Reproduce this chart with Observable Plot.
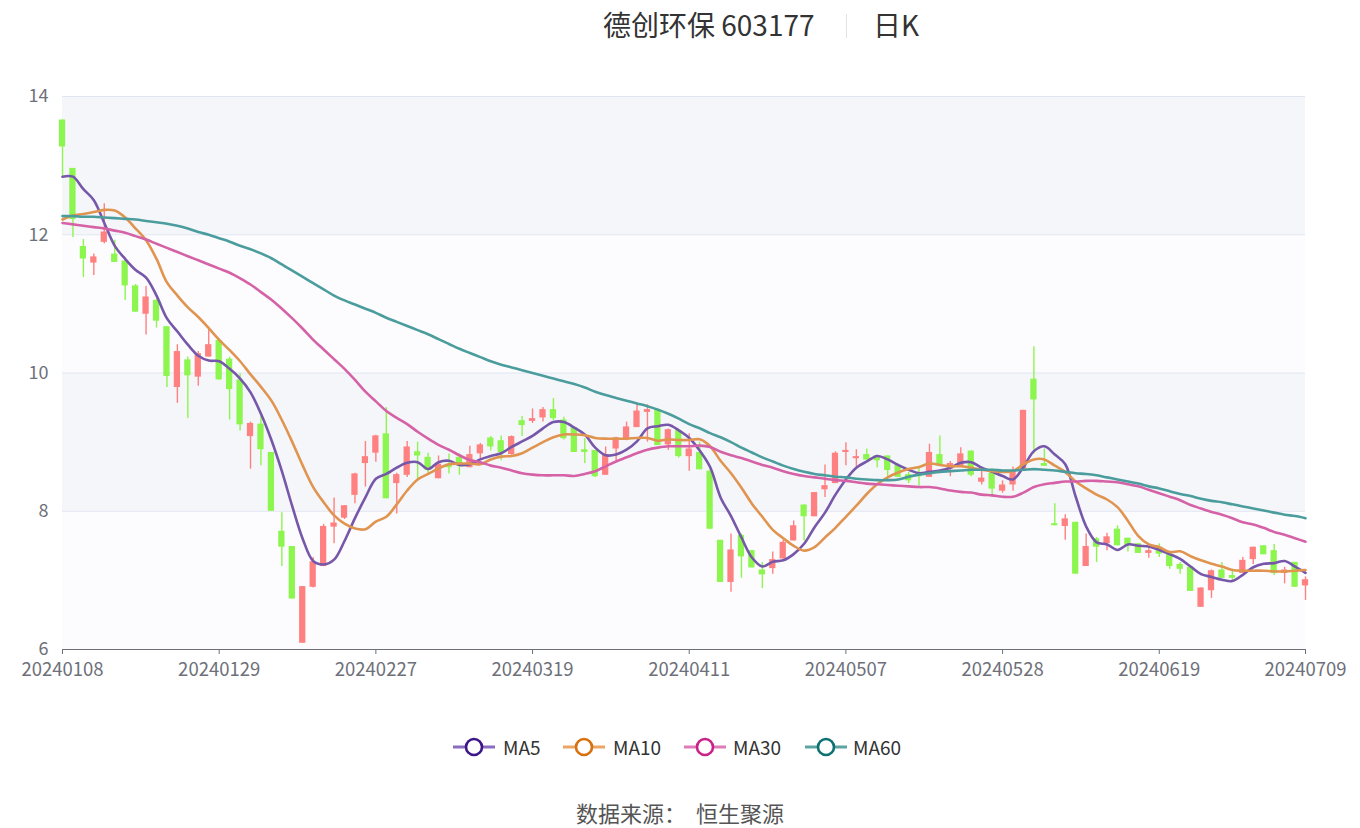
<!DOCTYPE html>
<html>
<head>
<meta charset="utf-8">
<script src="https://cdn.jsdelivr.net/npm/d3@7"></script>
<script src="https://cdn.jsdelivr.net/npm/@observablehq/plot@0.6"></script>
<style>
  body { margin: 0; background: #fff; font-family: "Noto Sans CJK SC", "Noto Sans", sans-serif; }
  #wrap { position: relative; width: 1360px; height: 828px; overflow: hidden; }
  #chart { position: absolute; left: 0; top: 0; }
  .title { position: absolute; top: 7px; font-size: 28px; line-height: 34px; color: #333; white-space: nowrap; }
  .sep { position: absolute; left: 846px; top: 14px; width: 1px; height: 24px; background: #e3e3e3; }
  .leg { position: absolute; top: 737px; height: 20px; display: flex; align-items: center; }
  .legtxt { position: absolute; top: 733px; font-size: 19px; line-height: 28px; color: #333; white-space: nowrap; }
  .source { position: absolute; top: 796px; left: 0; width: 1360px; text-align: center; font-size: 22px; line-height: 32px; color: #555; white-space: pre; }
</style>
</head>
<body>
<div id="wrap">
  <div id="chart"></div>
  <div class="title" style="left:603px">德创环保 603177</div>
  <div class="sep"></div>
  <div class="title" style="left:873px">日K</div>
  <div id="legend"></div>
  <div class="source">数据来源：  恒生聚源</div>
</div>
<script>
// trading dates (category axis)
const dates = [
  "20240108","20240109","20240110","20240111","20240112","20240115","20240116","20240117","20240118","20240119",
  "20240122","20240123","20240124","20240125","20240126","20240129","20240130","20240131","20240201","20240202",
  "20240205","20240206","20240207","20240208","20240219","20240220","20240221","20240222","20240223","20240226",
  "20240227","20240228","20240229","20240301","20240304","20240305","20240306","20240307","20240308","20240311",
  "20240312","20240313","20240314","20240315","20240318","20240319","20240320","20240321","20240322","20240325",
  "20240326","20240327","20240328","20240329","20240401","20240402","20240403","20240408","20240409","20240410",
  "20240411","20240412","20240415","20240416","20240417","20240418","20240419","20240422","20240423","20240424",
  "20240425","20240426","20240429","20240430","20240506","20240507","20240508","20240509","20240510","20240513",
  "20240514","20240515","20240516","20240517","20240520","20240521","20240522","20240523","20240524","20240527",
  "20240528","20240529","20240530","20240531","20240603","20240604","20240605","20240606","20240607","20240611",
  "20240612","20240613","20240614","20240617","20240618","20240619","20240620","20240621","20240624","20240625",
  "20240626","20240627","20240628","20240701","20240702","20240703","20240704","20240705","20240708","20240709"
];

const openP = [
  13.66,12.96,11.83,11.59,11.89,11.72,11.62,11.26,10.85,11.05,
  10.67,9.79,10.19,9.94,10.23,10.47,10.20,9.90,9.08,9.26,
  8.85,7.71,7.49,6.09,6.90,7.20,7.77,7.90,8.23,8.69,
  8.84,9.12,8.40,8.52,8.86,8.78,8.47,8.68,8.78,8.63,
  8.83,9.06,9.02,8.82,9.31,9.30,9.35,9.47,9.32,9.21,
  8.89,8.88,8.52,8.90,9.03,9.21,9.43,9.47,8.96,9.17,
  8.79,8.85,8.58,7.58,6.97,7.65,7.43,7.15,7.17,7.31,
  7.57,8.09,7.92,8.31,8.40,8.85,8.76,8.82,8.80,8.80,
  8.66,8.53,8.52,8.49,8.82,8.61,8.64,8.87,8.42,8.55,
  8.29,8.38,8.58,9.91,8.67,7.82,7.78,7.84,7.20,7.60,
  7.53,7.74,7.61,7.53,7.39,7.48,7.38,7.23,7.19,6.61,
  6.85,7.15,7.05,7.10,7.30,7.50,7.43,7.10,7.26,6.92
];
const highP = [
  13.66,12.96,11.93,11.72,12.45,11.92,11.62,11.28,11.25,11.07,
  10.67,10.41,10.23,10.31,10.64,10.50,10.23,9.99,9.29,9.38,
  8.85,7.98,7.49,6.91,7.33,7.81,8.19,8.08,8.55,9.01,
  9.10,9.50,8.55,9.01,9.00,8.84,8.80,8.83,8.83,8.94,
  8.98,9.08,9.09,9.09,9.37,9.48,9.50,9.63,9.36,9.21,
  9.05,8.88,8.93,9.07,9.29,9.54,9.54,9.48,9.19,9.17,
  9.12,9.00,8.61,7.58,7.67,7.67,7.43,7.26,7.41,7.58,
  7.86,8.09,8.27,8.67,8.86,8.99,8.89,8.90,8.81,8.80,
  8.68,8.56,8.62,8.97,9.09,8.72,8.92,8.87,8.58,8.61,
  8.44,8.64,9.46,10.38,8.90,8.11,7.95,7.84,7.67,7.62,
  7.68,7.79,7.61,7.53,7.48,7.53,7.38,7.26,7.19,6.89,
  7.15,7.26,7.16,7.33,7.48,7.50,7.52,7.19,7.26,7.05
];
const lowP = [
  12.84,11.96,11.38,11.41,11.87,11.60,11.05,10.88,10.55,10.65,
  9.79,9.56,9.34,9.81,10.23,9.90,9.32,9.16,8.61,8.66,
  8.00,7.20,6.73,6.09,6.89,7.20,7.53,7.88,8.11,8.35,
  8.71,8.18,7.96,8.49,8.44,8.55,8.47,8.54,8.52,8.63,
  8.76,8.87,8.73,8.81,9.08,9.27,9.29,9.31,9.03,8.85,
  8.69,8.49,8.52,8.73,9.02,9.21,9.00,8.95,8.88,8.77,
  8.58,8.60,7.74,6.97,6.83,7.03,7.18,6.88,7.09,7.31,
  7.57,7.57,7.92,8.20,8.40,8.66,8.64,8.74,8.63,8.49,
  8.49,8.40,8.36,8.49,8.65,8.50,8.64,8.50,8.38,8.20,
  8.26,8.29,8.58,8.83,8.65,7.79,7.58,7.09,7.20,7.26,
  7.43,7.50,7.41,7.39,7.32,7.33,7.16,7.09,6.84,6.61,
  6.74,7.03,7.00,7.10,7.23,7.37,7.07,6.95,6.90,6.71
];
const closeP = [
  13.27,12.22,11.65,11.68,12.04,11.60,11.26,10.88,11.10,10.75,
  9.95,10.31,9.96,10.28,10.41,9.90,9.76,9.25,9.27,8.89,
  8.00,7.48,6.73,6.91,7.27,7.78,7.83,8.08,8.54,8.79,
  9.09,8.18,8.53,8.93,8.80,8.59,8.68,8.63,8.66,8.82,
  8.96,8.93,8.85,9.08,9.24,9.34,9.47,9.34,9.05,8.85,
  8.85,8.50,8.82,9.06,9.22,9.45,9.47,8.95,9.18,8.79,
  8.90,8.60,7.74,6.97,7.44,7.34,7.18,7.08,7.30,7.55,
  7.79,7.92,8.27,8.37,8.84,8.88,8.79,8.74,8.73,8.59,
  8.49,8.44,8.50,8.85,8.65,8.69,8.83,8.52,8.48,8.32,
  8.38,8.58,9.46,9.61,8.65,7.79,7.89,7.09,7.49,7.48,
  7.63,7.50,7.50,7.39,7.43,7.38,7.20,7.16,6.84,6.89,
  7.14,7.03,7.03,7.29,7.48,7.37,7.10,7.15,6.90,7.01
];

const ma5 = [
  12.84,12.84,12.66,12.50,12.17,11.84,11.65,11.49,11.38,11.12,
  10.79,10.60,10.41,10.25,10.18,10.17,10.06,9.92,9.72,9.41,
  9.03,8.58,8.07,7.60,7.28,7.23,7.30,7.57,7.90,8.20,
  8.47,8.54,8.63,8.70,8.71,8.61,8.71,8.73,8.67,8.68,
  8.75,8.80,8.84,8.93,9.01,9.09,9.20,9.29,9.29,9.21,
  9.11,8.92,8.81,8.82,8.89,9.01,9.20,9.23,9.25,9.17,
  9.06,8.88,8.64,8.20,7.93,7.62,7.33,7.20,7.27,7.29,
  7.38,7.53,7.77,7.98,8.24,8.46,8.63,8.72,8.80,8.75,
  8.67,8.60,8.55,8.57,8.59,8.63,8.70,8.71,8.63,8.57,
  8.51,8.46,8.64,8.87,8.94,8.82,8.68,8.21,7.78,7.55,
  7.52,7.44,7.52,7.50,7.49,7.44,7.38,7.31,7.20,7.09,
  7.05,7.01,6.99,7.08,7.19,7.24,7.25,7.28,7.20,7.11
];
const ma10 = [
  12.22,12.28,12.30,12.33,12.36,12.35,12.25,12.09,11.92,11.65,
  11.31,11.12,10.95,10.81,10.65,10.48,10.33,10.17,9.98,9.80,
  9.60,9.32,9.00,8.66,8.35,8.13,7.94,7.82,7.75,7.74,
  7.85,7.92,8.10,8.30,8.46,8.54,8.62,8.68,8.69,8.69,
  8.68,8.75,8.79,8.80,8.84,8.92,9.00,9.07,9.11,9.11,
  9.10,9.06,9.05,9.05,9.05,9.06,9.06,9.02,9.04,9.03,
  9.03,9.04,8.94,8.73,8.55,8.34,8.11,7.92,7.73,7.61,
  7.50,7.43,7.48,7.62,7.76,7.92,8.08,8.25,8.39,8.49,
  8.56,8.61,8.64,8.69,8.67,8.65,8.65,8.63,8.60,8.58,
  8.57,8.58,8.68,8.75,8.75,8.66,8.57,8.43,8.33,8.24,
  8.17,8.06,7.86,7.64,7.52,7.48,7.41,7.42,7.35,7.29,
  7.24,7.20,7.15,7.14,7.14,7.14,7.13,7.13,7.14,7.15
];
const ma30 = [
  12.17,12.15,12.13,12.11,12.09,12.06,12.03,11.98,11.93,11.87,
  11.81,11.75,11.69,11.63,11.57,11.51,11.45,11.37,11.28,11.17,
  11.06,10.93,10.79,10.64,10.48,10.34,10.20,10.06,9.90,9.73,
  9.59,9.45,9.35,9.26,9.15,9.05,8.96,8.89,8.81,8.74,
  8.71,8.66,8.63,8.59,8.55,8.53,8.52,8.52,8.52,8.51,
  8.54,8.58,8.65,8.72,8.78,8.84,8.89,8.92,8.94,8.94,
  8.94,8.95,8.93,8.86,8.81,8.77,8.72,8.67,8.63,8.58,
  8.54,8.51,8.49,8.47,8.45,8.44,8.42,8.40,8.39,8.38,
  8.37,8.36,8.35,8.35,8.33,8.30,8.28,8.27,8.24,8.23,
  8.21,8.21,8.27,8.35,8.39,8.41,8.43,8.43,8.44,8.44,
  8.43,8.42,8.39,8.36,8.31,8.26,8.21,8.16,8.09,8.04,
  7.99,7.95,7.90,7.84,7.81,7.76,7.70,7.66,7.61,7.56
];
const ma60 = [
  12.27,12.27,12.26,12.26,12.25,12.24,12.23,12.22,12.20,12.18,
  12.16,12.13,12.09,12.04,12.00,11.95,11.90,11.84,11.79,11.73,
  11.66,11.57,11.48,11.39,11.30,11.21,11.12,11.05,10.99,10.93,
  10.87,10.80,10.74,10.68,10.62,10.56,10.49,10.42,10.35,10.29,
  10.23,10.17,10.12,10.08,10.04,10.00,9.96,9.92,9.88,9.84,
  9.79,9.73,9.68,9.64,9.60,9.56,9.52,9.47,9.41,9.34,
  9.26,9.20,9.13,9.07,9.00,8.92,8.85,8.78,8.72,8.66,
  8.61,8.57,8.54,8.52,8.50,8.49,8.47,8.46,8.45,8.45,
  8.46,8.50,8.53,8.55,8.57,8.58,8.59,8.60,8.60,8.60,
  8.59,8.59,8.60,8.61,8.60,8.59,8.57,8.55,8.54,8.52,
  8.49,8.46,8.43,8.40,8.36,8.33,8.29,8.25,8.22,8.18,
  8.15,8.13,8.10,8.07,8.04,8.01,7.98,7.95,7.93,7.90
];

const yTicks = [6, 8, 10, 12, 14];
const xTickIdx = [0, 15, 30, 45, 60, 75, 90, 105, 119];
const seriesNames = ["MA5", "MA10", "MA30", "MA60"];
const seriesValues = [ma5, ma10, ma30, ma60];

// styles
const lineColors = ["#7657a9", "#e09450", "#d561a6", "#4b9c9c"];
const legendDark = ["#3d168a", "#d9700e", "#c9228a", "#0e7272"];
const legendLight = ["#8a6cc0", "#eba566", "#e07bb8", "#5ea3a3"];
const upColor = "#ff8080";
const downColor = "#8cf54e";
const axisColor = "#6e7079";

const candles = dates.map((d, i) => ({ i, date: d, o: openP[i], h: highP[i], l: lowP[i], c: closeP[i] }));
const bands = d3.range(yTicks.length - 1).map(k => ({ y1: yTicks[k], y2: yTicks[k + 1], shade: k % 2 === 1 }));
const xDom = [0, dates.length - 1];

const lineMarks = seriesValues.map((vals, s) =>
  Plot.line(vals, { x: (d, i) => i, y: d => d, stroke: lineColors[s], strokeWidth: 2.6, curve: "catmull-rom" })
);

const chart = Plot.plot({
  width: 1360,
  height: 700,
  marginTop: 96,
  marginBottom: 51,
  marginLeft: 62,
  marginRight: 55,
  style: { fontFamily: '"Noto Sans CJK SC", "Noto Sans", sans-serif', background: "transparent" },
  x: { type: "linear", domain: xDom, axis: null, label: null },
  y: { domain: [yTicks[0], yTicks[yTicks.length - 1]], axis: null, label: null },
  color: { type: "identity" },
  marks: [
    Plot.rect(bands, { x1: () => xDom[0], x2: () => xDom[1], y1: "y1", y2: "y2", fill: d => d.shade ? "#f5f6fa" : "#fcfcfe" }),
    Plot.ruleY(yTicks, { stroke: "#e0e6f1", strokeWidth: 1 }),
    Plot.ruleX(candles, { x: "i", y1: "l", y2: "h", stroke: d => d.c >= d.o ? upColor : downColor, strokeWidth: 1.4 }),
    Plot.rect(candles, {
      x1: d => d.i - 0.3, x2: d => d.i + 0.3,
      y1: d => Math.min(d.o, d.c),
      y2: d => Math.max(d.o, d.c) + (Math.abs(d.o - d.c) < 0.02 ? 0.02 : 0),
      fill: d => d.c >= d.o ? upColor : downColor
    }),
    ...lineMarks,
    Plot.ruleY([yTicks[0]], { stroke: axisColor, strokeWidth: 1 }),
    Plot.axisX(xTickIdx, { tickFormat: i => dates[i], tickSize: 5, tickPadding: 8, fontSize: 18.5, stroke: axisColor, fill: axisColor, anchor: "bottom", label: null }),
    Plot.axisY(yTicks, { tickFormat: d => String(d), tickSize: 0, tickPadding: 14, fontSize: 18, fill: axisColor, anchor: "left", label: null })
  ]
});
document.getElementById("chart").appendChild(chart);

// legend
const legX = [453, 563, 684, 805];
const legTextX = [503, 613, 733, 853];
const legend = document.getElementById("legend");
seriesNames.forEach((name, s) => {
  const icon = document.createElement("div");
  icon.className = "leg";
  icon.style.left = legX[s] + "px";
  icon.innerHTML = `<svg width="42" height="20"><line x1="0" y1="10" x2="42" y2="10" stroke="${legendLight[s]}" stroke-width="3"/><circle cx="21" cy="10" r="8" fill="#fff" stroke="${legendDark[s]}" stroke-width="2.6"/></svg>`;
  legend.appendChild(icon);
  const t = document.createElement("div");
  t.className = "legtxt";
  t.style.left = legTextX[s] + "px";
  t.textContent = name;
  legend.appendChild(t);
});
</script>
</body>
</html>
